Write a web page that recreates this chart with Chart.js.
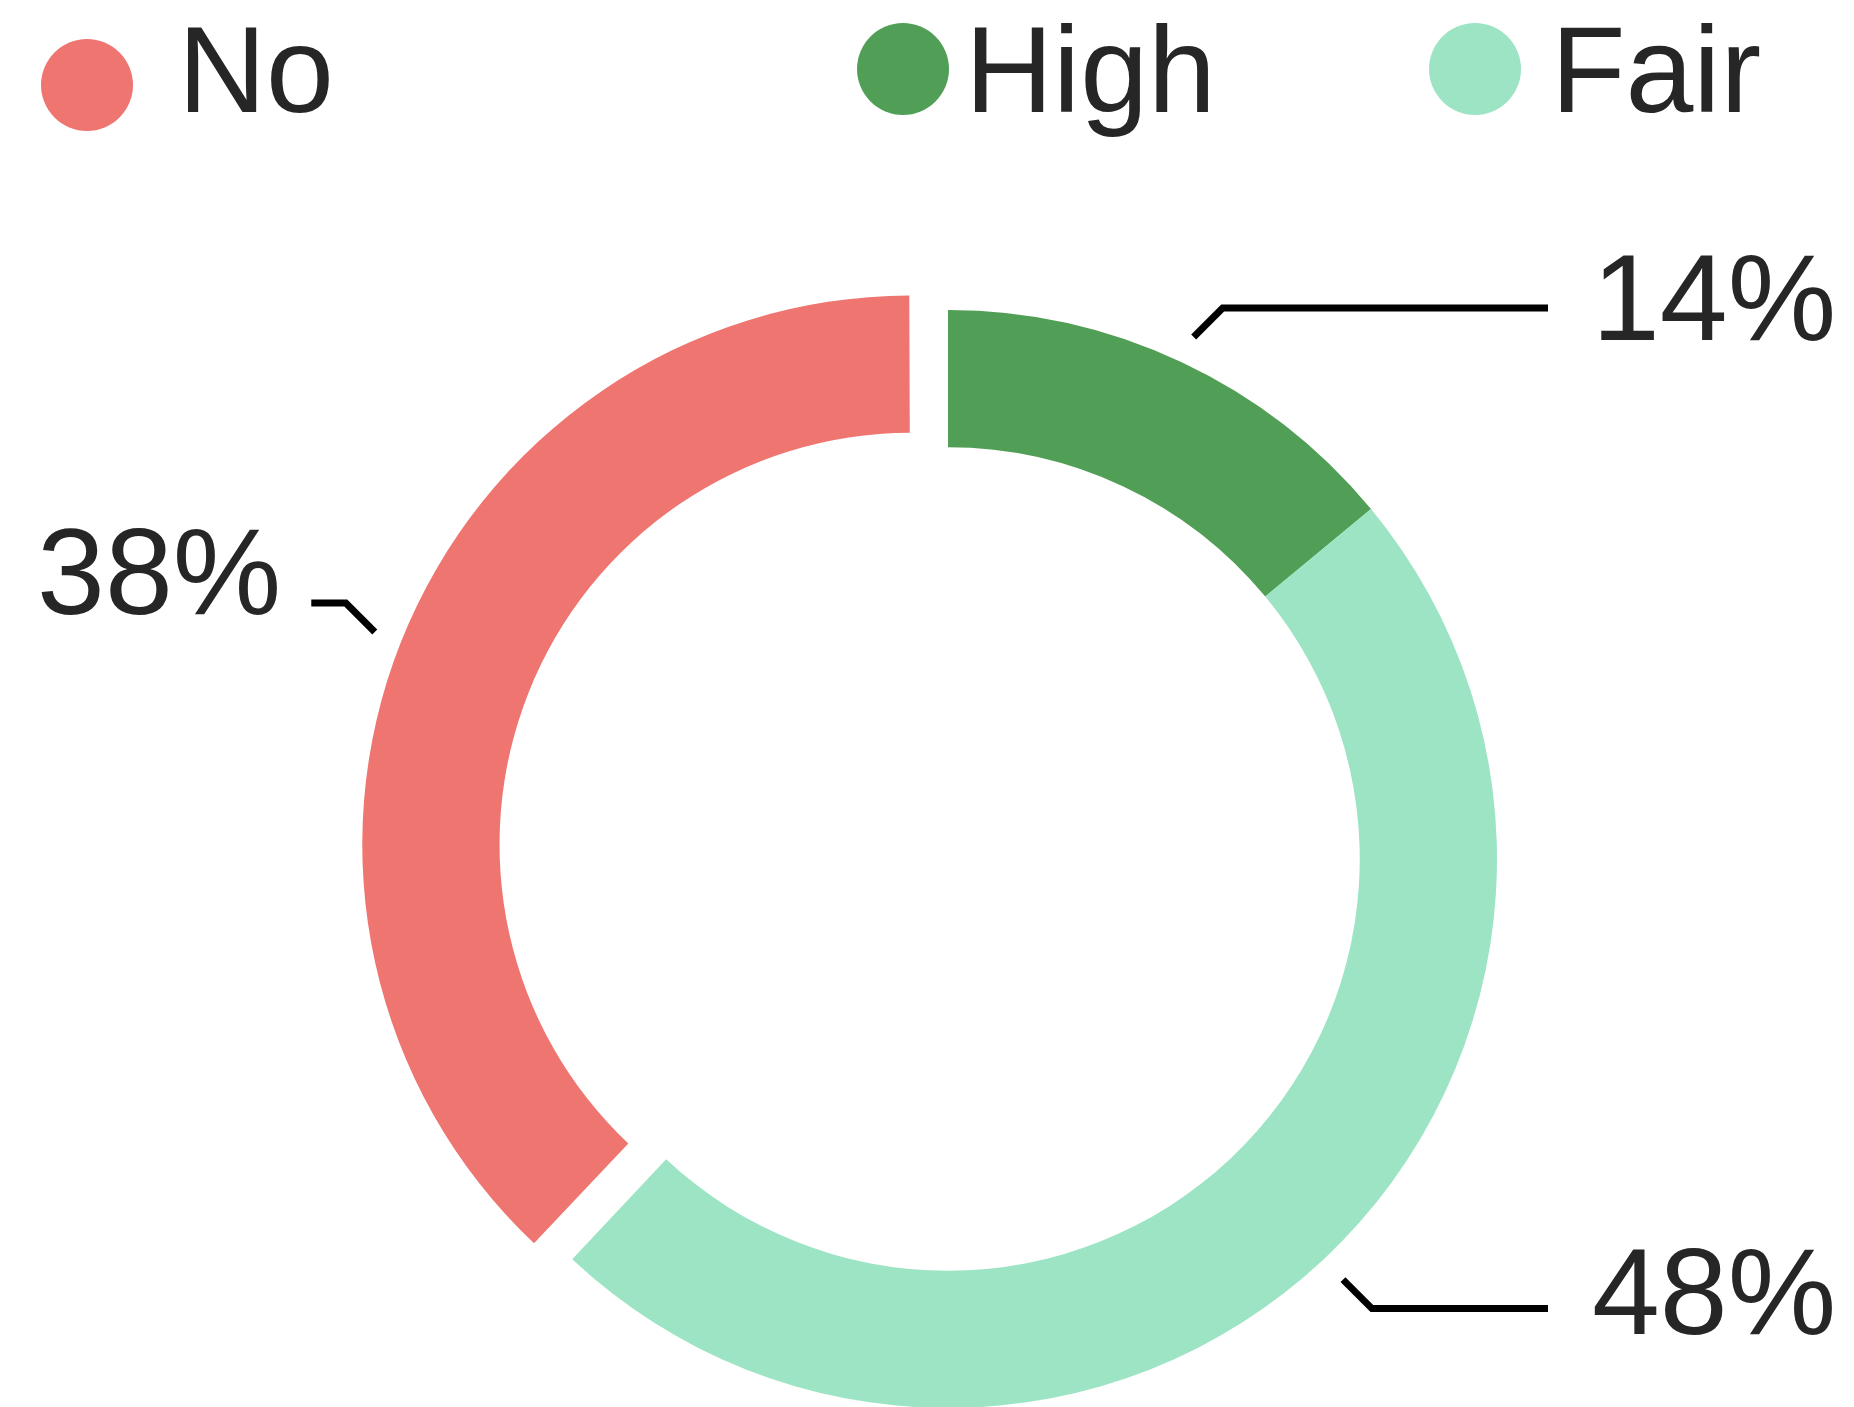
<!DOCTYPE html>
<html>
<head>
<meta charset="utf-8">
<script src="https://cdn.jsdelivr.net/npm/chart.js@4.4.1/dist/chart.umd.min.js"></script>
<style>
    html, body { margin: 0; padding: 0; background: #fff; }
    #wrap { position: relative; width: 1854px; height: 1407px; overflow: hidden; }
    #pie { position: absolute; left: 0; top: 0; }
    .dot { position: absolute; width: 92px; height: 92px; border-radius: 50%; }
    .lbl { position: absolute; font-family: "Liberation Sans", Arial, sans-serif; font-size: 122px; line-height: 122px; color: #262626; white-space: nowrap; }
</style>
</head>
<body>
<div id="wrap">
    <canvas id="pie" width="1854" height="1407"></canvas>
    <div id="legend"></div>
</div>
<script>
// data
const labels = ["No", "High", "Fair"];
const values = [38, 14, 48];
const colors = ["#ef7571", "#519f56", "#9ce4c3"];

// legend placement (dot left, dot top, text left)
const legendDotLeft = [41, 857, 1429];
const legendDotTop = [39, 23, 23];
const legendTextLeft = [178, 965, 1551];

const RING_RADIUS = 549;
const LEAD_GAP = 28;
const ELBOW_X = 29;
const ELBOW_Y = 29;
const REACH = 600;
const TEXT_GAP_R = 44;
const TEXT_GAP_L = 30;
const TEXT_DROP = [11, 32, 25];
const FONT = '122px "Liberation Sans", Arial, sans-serif';

window.addEventListener("load", () =>
{
    buildLegend();
    chart();
});

function buildLegend()
{
    const legend = document.getElementById("legend");
    let html = labels.map((label, i) =>
        `<div class="dot" style="left:${legendDotLeft[i]}px;top:${legendDotTop[i]}px;background:${colors[i]}"></div>` +
        `<div class="lbl" style="left:${legendTextLeft[i]}px;top:9px">${label}</div>`);
    legend.innerHTML = html.join("");
}

// arc offset also grows the radius in Chart.js, undo that so the ring stays even
const radiusFix = {
    id: "radiusFix",
    afterDatasetUpdate(chart, args)
    {
        args.meta.data.forEach(arc =>
        {
            const shift = (arc.options.offset || 0) / 4;
            const grow = shift * (1 - Math.sin(Math.min(Math.PI, arc.circumference)));
            arc.outerRadius -= grow;
            arc.innerRadius -= grow;
        });
    }
};

//Leader lines + percent labels
const leaders = {
    id: "leaders",
    afterDatasetsDraw(chart)
    {
        const ctx = chart.ctx;
        const meta = chart.getDatasetMeta(0);
        const total = values.reduce((a, b) => a + b, 0);
        ctx.save();
        ctx.lineWidth = 7;
        ctx.strokeStyle = "#000";
        ctx.lineJoin = "miter";
        ctx.font = FONT;
        ctx.fillStyle = "#262626";
        ctx.textBaseline = "alphabetic";
        meta.data.forEach((arc, i) =>
        {
            const mid = (arc.startAngle + arc.endAngle) / 2;
            const c = Math.cos(mid), s = Math.sin(mid);
            const shift = (arc.options.offset || 0) / 4;
            const cx = arc.x + c * shift;
            const cy = arc.y + s * shift;
            const x0 = cx + c * (RING_RADIUS + LEAD_GAP);
            const y0 = cy + s * (RING_RADIUS + LEAD_GAP);
            const right = c >= 0;
            const x1 = x0 + (right ? ELBOW_X : -ELBOW_X);
            const y1 = y0 + (s >= 0 ? ELBOW_Y : -ELBOW_Y);
            const x2 = cx + (right ? REACH : -REACH);
            ctx.beginPath();
            ctx.moveTo(x0, y0);
            ctx.lineTo(x1, y1);
            ctx.lineTo(x2, y1);
            ctx.stroke();
            ctx.textAlign = right ? "left" : "right";
            const txt = Math.round(values[i] / total * 100) + "%";
            ctx.fillText(txt, x2 + (right ? TEXT_GAP_R : -TEXT_GAP_L), y1 + TEXT_DROP[i]);
        });
        ctx.restore();
    }
};

function chart()
{
    let ctx = document.getElementById("pie").getContext("2d");
    new Chart(ctx, {
        type: "doughnut",
        data: {
            labels: labels,
            datasets: [{
                data: values,
                backgroundColor: colors,
                borderWidth: 0,
                offset: [158, 0, 0],
                radius: RING_RADIUS
            }]
        },
        options: {
            responsive: false,
            animation: false,
            events: [],
            cutout: "75%",
            rotation: -360 * values[0] / values.reduce((a, b) => a + b, 0),
            layout: { padding: { left: 42, right: 0, top: 311, bottom: 0 } },
            plugins: {
                legend: { display: false },
                tooltip: { enabled: false }
            }
        },
        plugins: [radiusFix, leaders]
    });
}
</script>
</body>
</html>
